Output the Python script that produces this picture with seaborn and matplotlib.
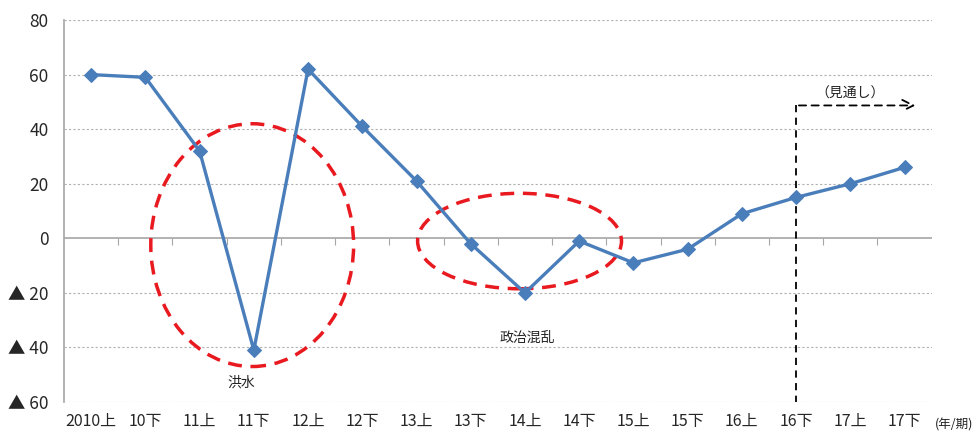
import matplotlib
matplotlib.use("Agg")
import matplotlib.pyplot as plt
from matplotlib.patches import Ellipse
import seaborn as sns
import pandas as pd

periods = ["2010上", "10下", "11上", "11下", "12上", "12下", "13上", "13下",
           "14上", "14下", "15上", "15下", "16上", "16下", "17上", "17下"]
values = [60, 59, 32, -41, 62, 41, 21, -2, -20, -1, -9, -4, 9, 15, 20, 26]
y_ticks = [80, 60, 40, 20, 0, -20, -40, -60]

sns.set_style("white")
plt.rcParams["font.family"] = ["Noto Sans CJK JP", "DejaVu Sans"]

df = pd.DataFrame({"idx": range(len(periods)), "period": periods, "value": values})

fig = plt.figure(figsize=(9.76, 4.36), dpi=100)
ax = fig.add_axes([0.0656, 0.078, 0.889, 0.876])

sns.lineplot(data=df, x="idx", y="value", ax=ax, color="#4a7ebb", linewidth=2.4,
             marker="D", markersize=7.5, markeredgecolor="#4a7ebb", zorder=5)

ax.set_xlim(-0.5, len(periods) - 0.5)
ax.set_ylim(-60, 80)
ax.set_yticks(y_ticks)
ax.set_yticklabels([str(v) if v >= 0 else "▲ " + str(-v) for v in y_ticks], fontsize=12.5)
ax.set_xticks(range(len(periods)))
ax.set_xticklabels(periods, fontsize=11.5)
ax.tick_params(axis="x", length=0, pad=8)
ax.tick_params(axis="y", length=5, color="#a6a6a6", direction="out", pad=6)
ax.set_xlabel("")
ax.set_ylabel("")

for v in y_ticks:
    if v != 0:
        ax.axhline(v, color="#b0b0b0", linestyle=(0, (2, 2)), linewidth=0.8, zorder=1)
ax.axhline(0, color="#a6a6a6", linewidth=1.2, zorder=2)

for s in ["top", "right", "bottom"]:
    ax.spines[s].set_visible(False)
ax.spines["left"].set_color("#a6a6a6")
ax.spines["left"].set_linewidth(1.2)

# tick marks on the zero line at category boundaries
sec = ax.secondary_xaxis(60 / 140)
sec.set_xticks([i - 0.5 for i in range(1, len(periods))])
sec.set_xticklabels([])
sec.tick_params(length=5, color="#a6a6a6", direction="out")
sec.spines["bottom"].set_visible(False)

# red dashed circles
ax.add_patch(Ellipse((2.97, -2.5), 3.74, 89, fill=False, edgecolor="#e8191f",
                     linestyle=(0, (4, 2.5)), linewidth=2.5, zorder=4))
ax.add_patch(Ellipse((7.9, -1), 3.76, 35, fill=False, edgecolor="#e8191f",
                     linestyle=(0, (4, 2.5)), linewidth=2.5, zorder=4))
ax.text(2.77, -52.7, "洪水", ha="center", va="center", fontsize=10, color="#222222")
ax.text(8.05, -36.6, "政治混乱", ha="center", va="center", fontsize=10, color="#222222")

# forecast marker
ax.plot([13, 13], [48.7, -60], color="black", linestyle=(0, (4, 3)), linewidth=1.3, zorder=3)
ax.annotate("", xy=(15.25, 48.7), xytext=(13, 48.7),
            arrowprops=dict(arrowstyle="->", color="black", linestyle=(0, (4, 3)),
                            linewidth=1.3, mutation_scale=20))
ax.text(14.0, 53, "（見通し）", ha="center", va="center", fontsize=10, color="#222222")

fig.text(0.978, 0.025, "(年/期)", ha="center", va="center", fontsize=9, color="#222222")

fig.savefig("out.png", dpi=100)
